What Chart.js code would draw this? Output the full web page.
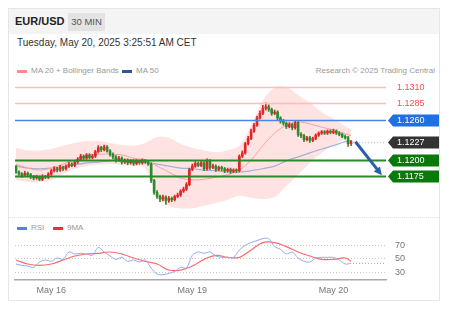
<!DOCTYPE html>
<html>
<head>
<meta charset="utf-8">
<script src="https://cdn.jsdelivr.net/npm/chart.js@4.4.1/dist/chart.umd.min.js"></script>
<style>
body{margin:0;background:#fff;font-family:"Liberation Sans",Arial,sans-serif;width:454px;height:312px;position:relative;overflow:hidden}
#card{position:absolute;left:8px;top:8px;width:432px;height:293px;border:1px solid #e6e6e6;box-sizing:border-box}
#head{position:absolute;left:9px;top:9px;width:430px;height:25px;background:#f4f4f4}
.t{position:absolute;white-space:nowrap}
#pair{left:15px;top:15px;font-size:11px;font-weight:bold;color:#222}
#tf{left:68px;top:13px;width:37px;height:18px;line-height:18px;text-align:center;background:#e3e3e3;font-size:9.5px;color:#555}
#date{left:17px;top:37px;font-size:10px;color:#333}
.leg{font-size:8px;color:#999}
.dash{position:absolute;width:10px;height:3px}
#sep{position:absolute;left:9px;top:217px;width:430px;border-top:1px dotted #e4e4e4}
canvas{position:absolute}
</style>
</head>
<body>
<div id="card"></div>
<div id="head"></div>
<div class="t" id="pair">EUR/USD</div>
<div class="t" id="tf">30 MIN</div>
<div class="t" id="date">Tuesday, May 20, 2025 3:25:51 AM CET</div>
<div class="dash" style="left:17px;top:70px;background:#ff8a8a"></div>
<div class="t leg" style="left:31px;top:66px">MA 20 + Bollinger Bands</div>
<div class="dash" style="left:122px;top:70px;background:#2f5597"></div>
<div class="t leg" style="left:136px;top:66px">MA 50</div>
<div class="t leg" style="right:19px;top:66px">Research © 2025 Trading Central</div>
<div id="sep"></div>
<div class="dash" style="left:17px;top:227px;background:#5b7fe0"></div>
<div class="t leg" style="left:31px;top:223px">RSI</div>
<div class="dash" style="left:53px;top:227px;background:#ff2a2a"></div>
<div class="t leg" style="left:67px;top:223px">9MA</div>
<canvas id="main" width="433" height="130" style="left:8px;top:80px"></canvas>
<canvas id="rsi" width="433" height="84" style="left:8px;top:218px"></canvas>
<script>
// 30 min candles, May 15 18:00 -> May 20 03:00
var opens = [1.1189,1.1181,1.1178,1.1176,1.1179,1.1177,1.1174,1.1172,1.1173,1.1170,
1.1174,1.1173,1.1178,1.1183,1.1186,1.1184,1.1188,1.1186,1.1190,1.1193,
1.1191,1.1196,1.1200,1.1205,1.1202,1.1207,1.1203,1.1205,1.1212,1.1218,
1.1215,1.1219,1.1213,1.1208,1.1204,1.1199,1.1202,1.1196,1.1199,1.1195,
1.1198,1.1194,1.1197,1.1195,1.1198,1.1196,1.1193,1.1168,1.1150,1.1144,
1.1140,1.1143,1.1138,1.1141,1.1139,1.1144,1.1146,1.1152,1.1155,1.1162,
1.1185,1.1190,1.1194,1.1191,1.1195,1.1186,1.1199,1.1188,1.1190,1.1185,
1.1188,1.1186,1.1183,1.1185,1.1182,1.1184,1.1183,1.1205,1.1210,1.1224,
1.1232,1.1243,1.1252,1.1263,1.1270,1.1278,1.1280,1.1276,1.1270,1.1272,
1.1263,1.1258,1.1255,1.1250,1.1253,1.1248,1.1256,1.1238,1.1236,1.1230,
1.1233,1.1229,1.1232,1.1237,1.1240,1.1242,1.1240,1.1243,1.1241,1.1243,
1.1240,1.1238,1.1235,1.1233,1.1224];
var highs = [1.1191,1.1183,1.1180,1.1182,1.1181,1.1179,1.1176,1.1176,1.1175,1.1177,
1.1176,1.1180,1.1185,1.1189,1.1188,1.1191,1.1190,1.1192,1.1196,1.1195,
1.1198,1.1203,1.1208,1.1207,1.1209,1.1209,1.1208,1.1214,1.1221,1.1220,
1.1222,1.1221,1.1215,1.1210,1.1206,1.1205,1.1204,1.1201,1.1201,1.1200,
1.1200,1.1200,1.1199,1.1201,1.1200,1.1198,1.1195,1.1170,1.1153,1.1146,
1.1146,1.1145,1.1144,1.1143,1.1146,1.1149,1.1154,1.1158,1.1165,1.1187,
1.1193,1.1197,1.1196,1.1198,1.1197,1.1201,1.1200,1.1193,1.1192,1.1190,
1.1190,1.1188,1.1187,1.1187,1.1186,1.1186,1.1207,1.1213,1.1226,1.1235,
1.1246,1.1255,1.1266,1.1274,1.1282,1.1286,1.1283,1.1278,1.1275,1.1274,
1.1265,1.1261,1.1257,1.1256,1.1255,1.1259,1.1258,1.1241,1.1238,1.1235,
1.1235,1.1234,1.1239,1.1242,1.1244,1.1244,1.1245,1.1245,1.1246,1.1245,
1.1242,1.1240,1.1237,1.1235,1.1229];
var lows = [1.1179,1.1176,1.1173,1.1174,1.1174,1.1171,1.1169,1.1170,1.1168,1.1168,
1.1171,1.1171,1.1176,1.1181,1.1181,1.1182,1.1183,1.1184,1.1188,1.1189,
1.1189,1.1194,1.1198,1.1200,1.1200,1.1201,1.1201,1.1203,1.1210,1.1212,
1.1213,1.1211,1.1205,1.1201,1.1196,1.1197,1.1193,1.1194,1.1192,1.1193,
1.1191,1.1192,1.1193,1.1193,1.1194,1.1191,1.1165,1.1147,1.1141,1.1136,
1.1137,1.1132,1.1135,1.1136,1.1137,1.1142,1.1144,1.1150,1.1153,1.1160,
1.1183,1.1188,1.1189,1.1189,1.1183,1.1184,1.1185,1.1186,1.1182,1.1183,
1.1183,1.1180,1.1181,1.1179,1.1180,1.1180,1.1181,1.1203,1.1208,1.1222,
1.1230,1.1241,1.1250,1.1261,1.1268,1.1275,1.1273,1.1267,1.1268,1.1260,
1.1255,1.1252,1.1247,1.1248,1.1245,1.1246,1.1235,1.1233,1.1227,1.1228,
1.1226,1.1227,1.1230,1.1235,1.1238,1.1238,1.1238,1.1239,1.1239,1.1238,
1.1236,1.1233,1.1231,1.1220,1.1221];
var closes = [1.1181,1.1178,1.1176,1.1179,1.1177,1.1174,1.1172,1.1173,1.1170,1.1174,
1.1173,1.1178,1.1183,1.1186,1.1184,1.1188,1.1186,1.1190,1.1193,1.1191,
1.1196,1.1200,1.1205,1.1202,1.1207,1.1203,1.1205,1.1212,1.1218,1.1215,
1.1219,1.1213,1.1208,1.1204,1.1199,1.1202,1.1196,1.1199,1.1195,1.1198,
1.1194,1.1197,1.1195,1.1198,1.1196,1.1193,1.1168,1.1150,1.1144,1.1140,
1.1143,1.1138,1.1141,1.1139,1.1144,1.1146,1.1152,1.1155,1.1162,1.1185,
1.1190,1.1194,1.1191,1.1195,1.1186,1.1199,1.1188,1.1190,1.1185,1.1188,
1.1186,1.1183,1.1185,1.1182,1.1184,1.1183,1.1205,1.1210,1.1224,1.1232,
1.1243,1.1252,1.1263,1.1270,1.1278,1.1280,1.1276,1.1270,1.1272,1.1263,
1.1258,1.1255,1.1250,1.1253,1.1248,1.1256,1.1238,1.1236,1.1230,1.1233,
1.1229,1.1232,1.1237,1.1240,1.1242,1.1240,1.1243,1.1241,1.1243,1.1240,
1.1238,1.1235,1.1233,1.1224,1.1227];

// indicators, read every 4 candles
var maIdx = [0,4,8,12,16,20,24,28,32,36,40,44,48,52,56,60,64,68,72,76,80,84,88,92,96,100,104,108,112,114];
var bbUpper = [1.1218,1.1214,1.1214,1.1216,1.1221,1.1225,1.1228,1.1228,1.1225,1.1222,1.1221,1.1225,1.1234,1.1233,1.1224,1.1218,1.1214,1.1211,1.1214,1.1221,1.1252,1.1290,1.1309,1.1310,1.1298,1.1286,1.1272,1.1262,1.1251,1.1246];
var bbLower = [1.1169,1.1166,1.1166,1.1169,1.1178,1.1186,1.1190,1.1192,1.1193,1.1192,1.1190,1.1187,1.1146,1.1130,1.1126,1.1126,1.1130,1.1134,1.1139,1.1145,1.1142,1.1140,1.1143,1.1160,1.1177,1.1195,1.1210,1.1222,1.1231,1.1234];
var ma20 = [1.1193,1.1187,1.1184,1.1187,1.1193,1.1199,1.1205,1.1208,1.1208,1.1207,1.1202,1.1199,1.1190,1.1181,1.1172,1.1169,1.1170,1.1173,1.1177,1.1184,1.1199,1.1221,1.1240,1.1252,1.1257,1.1254,1.1249,1.1245,1.1239,1.1236];
var ma50 = [1.1190,1.1187,1.1186,1.1187,1.1189,1.1192,1.1195,1.1196,1.1198,1.1198,1.1198,1.1196,1.1193,1.1190,1.1187,1.1186,1.1184,1.1183,1.1181,1.1181,1.1183,1.1186,1.1190,1.1198,1.1204,1.1210,1.1216,1.1221,1.1227,1.1228];

// RSI every 2 candles, 9MA every 4
var rsiIdx = [0,2,4,6,8,10,12,14,16,18,20,22,24,26,28,30,32,34,36,38,40,42,44,46,48,50,52,54,56,58,60,62,64,66,68,70,72,74,76,78,80,82,84,86,88,90,92,94,96,98,100,102,104,106,108,110,112,114];
var rsi = [42,40,39,37,45,48,46,51,49,60,57,58,57,55,67,60,54,49,52,46,48,45,48,36,27,26,28,31,37,36,55,60,58,60,54,52,52,52,63,70,74,77,80,80,68,64,57,60,51,46,45,51,52,52,52,48,42,43];
var rsiMa = [48,42,40,42,48,54,57,58,60,57,51,46,42,33,33,39,49,55,52,52,63,74,74,68,60,54,49,49,51,46];
var rsiTicks = [30,50,70];

var xTickIdx = [12,60,108];
var xTickLabels = ['May 16','May 19','May 20'];

var levels = [1.1310,1.1285,1.1260,1.1227,1.1200,1.1175];
var levelLabels = ['1.1310','1.1285','1.1260','1.1227','1.1200','1.1175'];
var arrowFrom = [115.5,1.1227];
var arrowTo = [124.5,1.1176];

var X_MIN = -0.34, X_MAX = 125.9;

Chart.defaults.font.family = '"Liberation Sans", Arial, sans-serif';

function pts(ix, vals) { return vals.map(function(v, k){ return {x: ix[k], y: v}; }); }

var candleCol = closes.map(function(c, i){ return c >= opens[i] ? '#e02626' : '#2e8a2e'; });

// level line + tag styles
var lvlStyle = [
  {line:'#ffbcbc', w:1.5, text:'#ff4a4a', tag:null},
  {line:'#ffbcbc', w:1.5, text:'#ff4a4a', tag:null},
  {line:'#4a86e8', w:1.5, text:'#fff', tag:'#1f6fe5'},
  {line:'#c4c4c4', w:1.5, text:'#fff', tag:'#333333', dash:[1,2], fromLast:true},
  {line:'#2a8a2a', w:2, text:'#fff', tag:'#0b780b'},
  {line:'#2a8a2a', w:2, text:'#fff', tag:'#0b780b'}
];

var levelsPlugin = {
  id: 'levels',
  afterDatasetsDraw: function(chart) {
    var ctx = chart.ctx, a = chart.chartArea, xs = chart.scales.x, ys = chart.scales.y;
    ctx.save();
    levels.forEach(function(v, k) {
      var s = lvlStyle[k], y = Math.round(ys.getPixelForValue(v)) + 0.5;
      var x0 = s.fromLast ? xs.getPixelForValue(closes.length - 0.3) : a.left;
      ctx.beginPath();
      ctx.setLineDash(s.dash || []);
      ctx.strokeStyle = s.line; ctx.lineWidth = s.w;
      ctx.moveTo(x0, y); ctx.lineTo(a.right, y); ctx.stroke();
      ctx.setLineDash([]);
      var tx = a.right + 2;
      if (s.tag) {
        ctx.fillStyle = s.tag;
        ctx.beginPath();
        ctx.moveTo(tx, y);
        ctx.lineTo(tx + 5, y - 6);
        ctx.lineTo(tx + 51, y - 6);
        ctx.lineTo(tx + 51, y + 6);
        ctx.lineTo(tx + 5, y + 6);
        ctx.closePath(); ctx.fill();
      }
      ctx.fillStyle = s.text;
      ctx.font = '9px "Liberation Sans", Arial, sans-serif';
      ctx.textBaseline = 'middle';
      ctx.fillText(levelLabels[k], tx + 9, y + 0.5);
    });
    // forecast arrow
    var x1 = xs.getPixelForValue(arrowFrom[0]), y1 = ys.getPixelForValue(arrowFrom[1]);
    var x2 = xs.getPixelForValue(arrowTo[0]), y2 = ys.getPixelForValue(arrowTo[1]);
    var ang = Math.atan2(y2 - y1, x2 - x1), hl = 9;
    ctx.strokeStyle = '#2b5ea8'; ctx.fillStyle = '#2b5ea8'; ctx.lineWidth = 3;
    ctx.beginPath();
    ctx.moveTo(x1, y1);
    ctx.lineTo(x2 - hl * 0.8 * Math.cos(ang), y2 - hl * 0.8 * Math.sin(ang));
    ctx.stroke();
    ctx.beginPath();
    ctx.moveTo(x2, y2);
    ctx.lineTo(x2 - hl * Math.cos(ang - 0.45), y2 - hl * Math.sin(ang - 0.45));
    ctx.lineTo(x2 - hl * Math.cos(ang + 0.45), y2 - hl * Math.sin(ang + 0.45));
    ctx.closePath(); ctx.fill();
    ctx.restore();
  }
};

new Chart(document.getElementById('main'), {
  type: 'bar',
  data: {
    datasets: [
      { type: 'line', data: pts(maIdx, bbUpper), fill: '+1', backgroundColor: 'rgba(255,150,150,0.28)',
        borderWidth: 0, pointRadius: 0, tension: 0.35, order: 10 },
      { type: 'line', data: pts(maIdx, bbLower), fill: false, borderWidth: 0, pointRadius: 0, tension: 0.35, order: 10 },
      { type: 'line', data: pts(maIdx, ma20), borderColor: '#f7a3a3', borderWidth: 1, pointRadius: 0, tension: 0.35, order: 5 },
      { type: 'line', data: pts(maIdx, ma50), borderColor: '#a3b1d6', borderWidth: 1.2, pointRadius: 0, tension: 0.35, order: 5 },
      { type: 'bar', data: closes.map(function(c, i){ return {x: i, y: [lows[i], highs[i]]}; }),
        backgroundColor: candleCol, barThickness: 1, grouped: false, order: 2 },
      { type: 'bar', data: closes.map(function(c, i){ return {x: i, y: [opens[i], c]}; }),
        backgroundColor: candleCol, barThickness: 2, minBarLength: 1, grouped: false, order: 1 }
    ]
  },
  options: {
    responsive: false, animation: false, events: [],
    layout: { padding: { left: 7, right: 55, top: 0, bottom: 0 } },
    plugins: { legend: { display: false }, tooltip: { enabled: false } },
    scales: {
      x: { type: 'linear', display: false, offset: false, min: X_MIN, max: X_MAX },
      y: { display: false, min: 1.11234, max: 1.13206 }
    }
  },
  plugins: [levelsPlugin]
});

var rsiTail = {
  id: 'rsiTail',
  afterDatasetsDraw: function(chart) {
    var ctx = chart.ctx, a = chart.chartArea, xs = chart.scales.x, ys = chart.scales.y;
    var y = ys.getPixelForValue(rsi[rsi.length - 1]);
    ctx.save();
    ctx.strokeStyle = '#8ea6ef'; ctx.lineWidth = 1; ctx.setLineDash([1, 2]);
    ctx.beginPath();
    ctx.moveTo(xs.getPixelForValue(rsiIdx[rsiIdx.length - 1]) + 2, y);
    ctx.lineTo(a.right, y); ctx.stroke();
    ctx.restore();
  }
};

new Chart(document.getElementById('rsi'), {
  type: 'line',
  data: {
    datasets: [
      { data: pts(rsiIdx, rsi), borderColor: '#93aaf0', borderWidth: 1, pointRadius: 0, tension: 0.3 },
      { data: pts(maIdx, rsiMa), borderColor: '#ff6a6a', borderWidth: 1.2, pointRadius: 0, tension: 0.4 }
    ]
  },
  options: {
    responsive: false, animation: false, events: [],
    layout: { padding: { left: 7, right: 0, top: 0, bottom: 0 } },
    plugins: { legend: { display: false }, tooltip: { enabled: false } },
    scales: {
      x: {
        type: 'linear', min: X_MIN, max: X_MAX,
        afterBuildTicks: function(s){ s.ticks = xTickIdx.map(function(v){ return {value: v}; }); },
        afterFit: function(s){ s.height = 22; },
        ticks: { autoSkip: false, maxRotation: 0, color: '#777', font: { size: 9 }, padding: 5,
          callback: function(v){ return xTickLabels[xTickIdx.indexOf(v)]; } },
        grid: { display: false, drawTicks: false },
        border: { display: true, color: '#a8a8a8', width: 1.5 }
      },
      y: {
        position: 'right', min: 18.1, max: 89.3,
        afterBuildTicks: function(s){ s.ticks = rsiTicks.map(function(v){ return {value: v}; }); },
        afterFit: function(s){ s.width = 55; },
        ticks: { color: '#777', font: { size: 9 }, padding: 9 },
        grid: { color: '#c8c8c8', drawTicks: false },
        border: { display: false, dash: [1, 2] }
      }
    }
  },
  plugins: [rsiTail]
});
</script>
</body>
</html>
